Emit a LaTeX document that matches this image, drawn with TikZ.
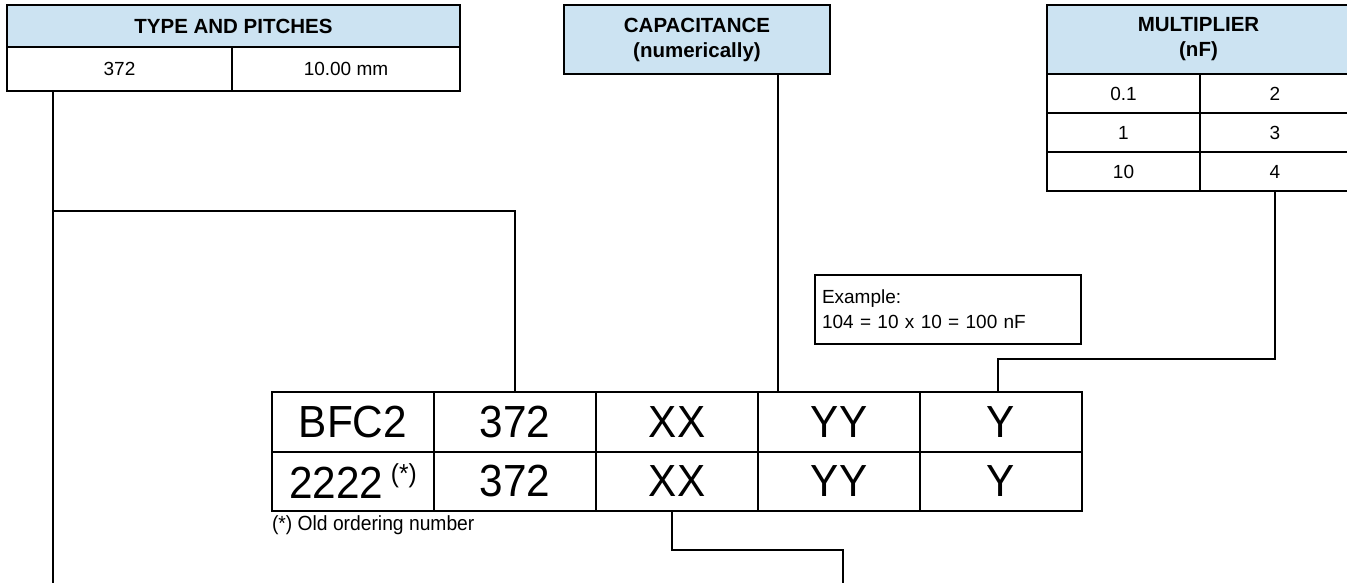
\documentclass[tikz,border=0pt]{standalone}
\usepackage{fontspec}
\setmainfont{Liberation Sans}
\newfontfamily\cellfont[FakeStretch=0.94]{Liberation Sans}
\usetikzlibrary{positioning}
\definecolor{headblue}{RGB}{204,227,242}

\begin{document}
\begin{tikzpicture}[
  x=1pt, y=-1pt,
  every node/.style={inner sep=0pt, outer sep=0pt},
  frame/.style={draw=black, line width=1.6pt},
  head/.style={frame, fill=headblue, align=center, font=\fontsize{20.5}{25}\selectfont\bfseries},
  small/.style={frame, font=\fontsize{19}{24}\selectfont},
  big/.style={frame, minimum width=162pt, font=\cellfont\fontsize{45}{50}\selectfont},
  wire/.style={line width=1.6pt}
]
\useasboundingbox (0,0) rectangle (1347,583);

% type and pitches table
\node[head, minimum width=453pt, minimum height=42pt] (typeHead) at (233.5,26) {TYPE AND PITCHES};
\node[small, minimum width=225pt, minimum height=44pt] (typeNum) at (119.5,69) {372};
\node[small, minimum width=228pt, minimum height=44pt] (typePitch) at (346,69) {10.00 mm};

% capacitance
\node[head, minimum width=266pt, minimum height=69pt] (capHead) at (697,39.5) {CAPACITANCE\\(numerically)};

% multiplier table
\node[head, minimum width=303pt, minimum height=69pt] (multHead) at (1198.5,39.5) {MULTIPLIER\\(nF)};
\foreach \val/\code [count=\i] in {0.1/2, 1/3, 10/4} {
  \node[small, minimum width=153pt, minimum height=39pt] (multVal\i) at (1123.5,54.5+39*\i) {\val};
  \node[small, minimum width=150pt, minimum height=39pt] (multCode\i) at (1275,54.5+39*\i) {\code};
}

% example box
\node[frame, minimum width=266pt, minimum height=69pt, text width=252pt, align=left,
  font=\fontsize{19}{25}\selectfont] (example) at (948,309.5) {Example:\\104 = 10 x 10 = 100 nF};

% ordering code, two rows
\foreach \txt [count=\c] in {BFC2,372,XX,YY,Y}
  \node[big, minimum height=60pt] (top\c) at (191+162*\c,422) {\txt};
\foreach \txt [count=\c] in {{2222\,\raisebox{16pt}{\fontsize{26}{26}\selectfont(*)}},372,XX,YY,Y}
  \node[big, minimum height=59pt] (bot\c) at (191+162*\c,481.5) {\txt};
\node[anchor=north west, font=\cellfont\fontsize{20.5}{24}\selectfont] (note) at ([yshift=-5pt]bot1.south west) {(*) Old ordering number};

% connectors
\coordinate (leftEnd) at (53,583);
\coordinate (typeSplit) at (53,211);
\coordinate (capIn) at ([xshift=-61pt]top4.north);
\coordinate (xxEnd) at (843,583);
\draw[wire] (typeNum.south -| leftEnd) -- (leftEnd);
\draw[wire] (typeSplit) -| (top2.north);
\draw[wire] (capHead.south -| capIn) -- (capIn);
\draw[wire] (multCode3.south) -- ++(0,168) -| ([xshift=-3pt]top5.north);
\draw[wire] ([xshift=-5pt]bot3.south) -- ++(0,39) -| (xxEnd);
\end{tikzpicture}
\end{document}
